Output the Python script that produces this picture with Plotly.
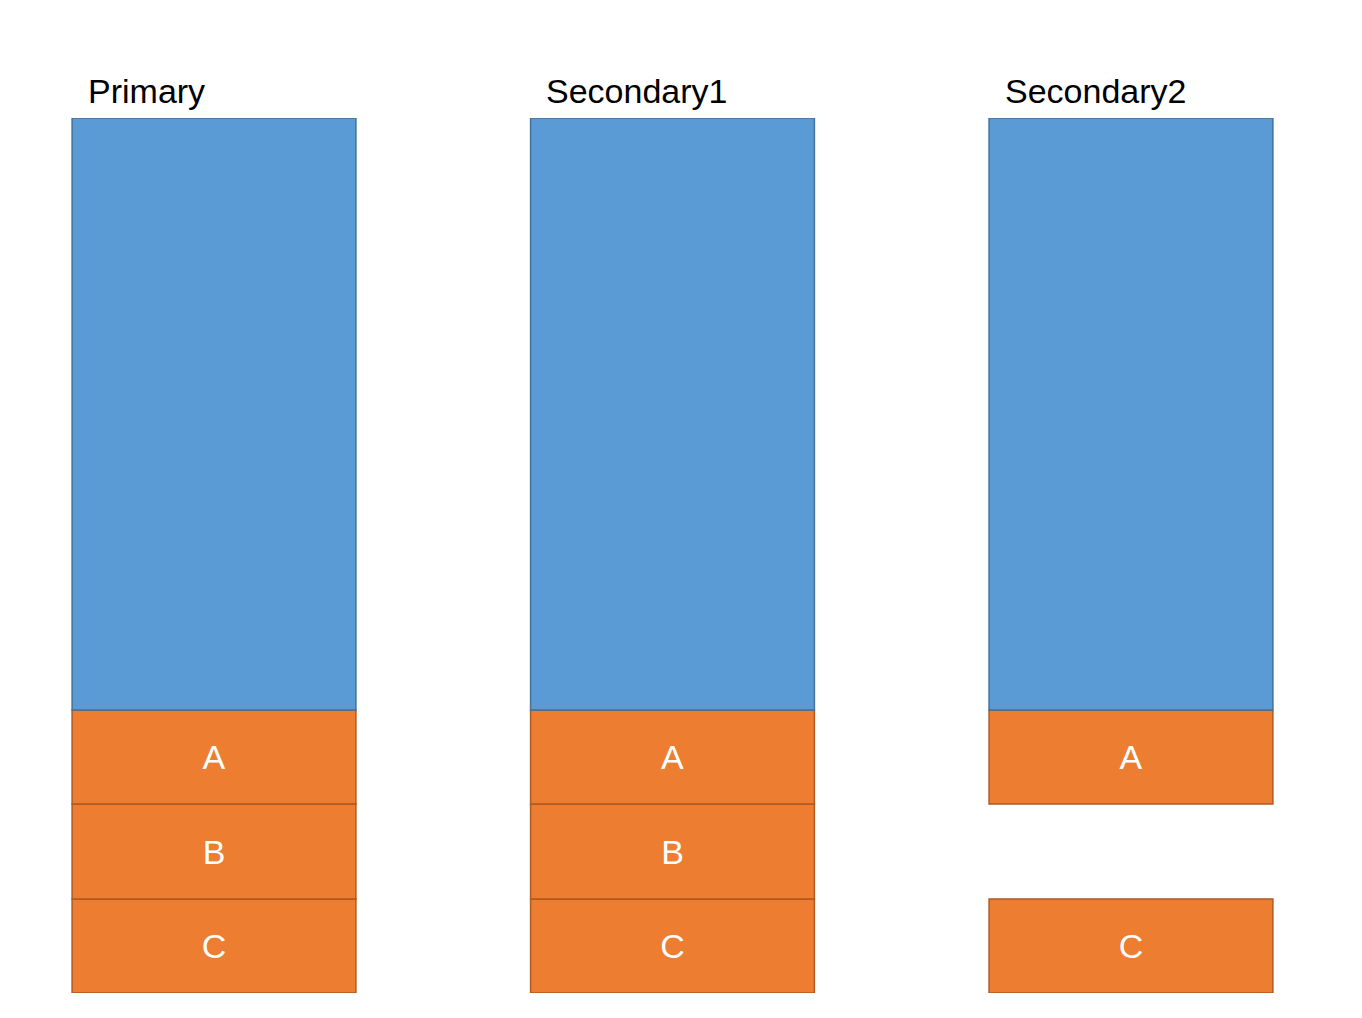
import plotly.graph_objects as go

# columns and their segments (bottom to top)
columns = ["Primary", "Secondary1", "Secondary2"]
seg_names = ["C", "B", "A"]
seg_c = [94, 94, 94]
seg_b = [95, 95, None]   # Secondary2 has no B
seg_a = [94, 94, 94]
seg_top = [592, 592, 592]

xs = [0, 1, 2]
w = 0.619
orange = "#ed7d31"
orange_edge = "#ae5a21"
blue = "#5b9bd5"
blue_edge = "#41719c"

fig = go.Figure()
base = [0, 0, 0]
for name, vals in zip(seg_names, [seg_c, seg_b, seg_a]):
    xv, yv, bv = [], [], []
    for i, v in enumerate(vals):
        if v is not None:
            xv.append(xs[i]); yv.append(v); bv.append(base[i])
    fig.add_trace(go.Bar(x=xv, y=yv, base=bv, width=w, text=[name] * len(xv),
                         textposition="inside", insidetextanchor="middle",
                         textfont=dict(color="white", size=34, family="Liberation Sans"),
                         marker=dict(color=orange, line=dict(color=orange_edge, width=1.5)),
                         hoverinfo="skip"))
    base = [base[i] + (95 if vals[i] is None else vals[i]) for i in range(3)]

fig.add_trace(go.Bar(x=xs, y=seg_top, base=base, width=w,
                     marker=dict(color=blue, line=dict(color=blue_edge, width=1.5)),
                     hoverinfo="skip"))

total = base[0] + seg_top[0]
for i, c in enumerate(columns):
    fig.add_annotation(x=xs[i] - w / 2 + 0.03, y=total, text=c, showarrow=False,
                       xanchor="left", yanchor="bottom", yshift=6,
                       font=dict(size=34, color="black", family="Liberation Sans"))

fig.update_layout(width=1362, height=1018, margin=dict(l=0, r=0, t=110, b=33),
                  plot_bgcolor="white", paper_bgcolor="white", showlegend=False,
                  barmode="overlay")
fig.update_xaxes(range=[-0.4493, 2.5213], visible=False)
fig.update_yaxes(range=[0, total], visible=False)
fig.write_html("out.html")
